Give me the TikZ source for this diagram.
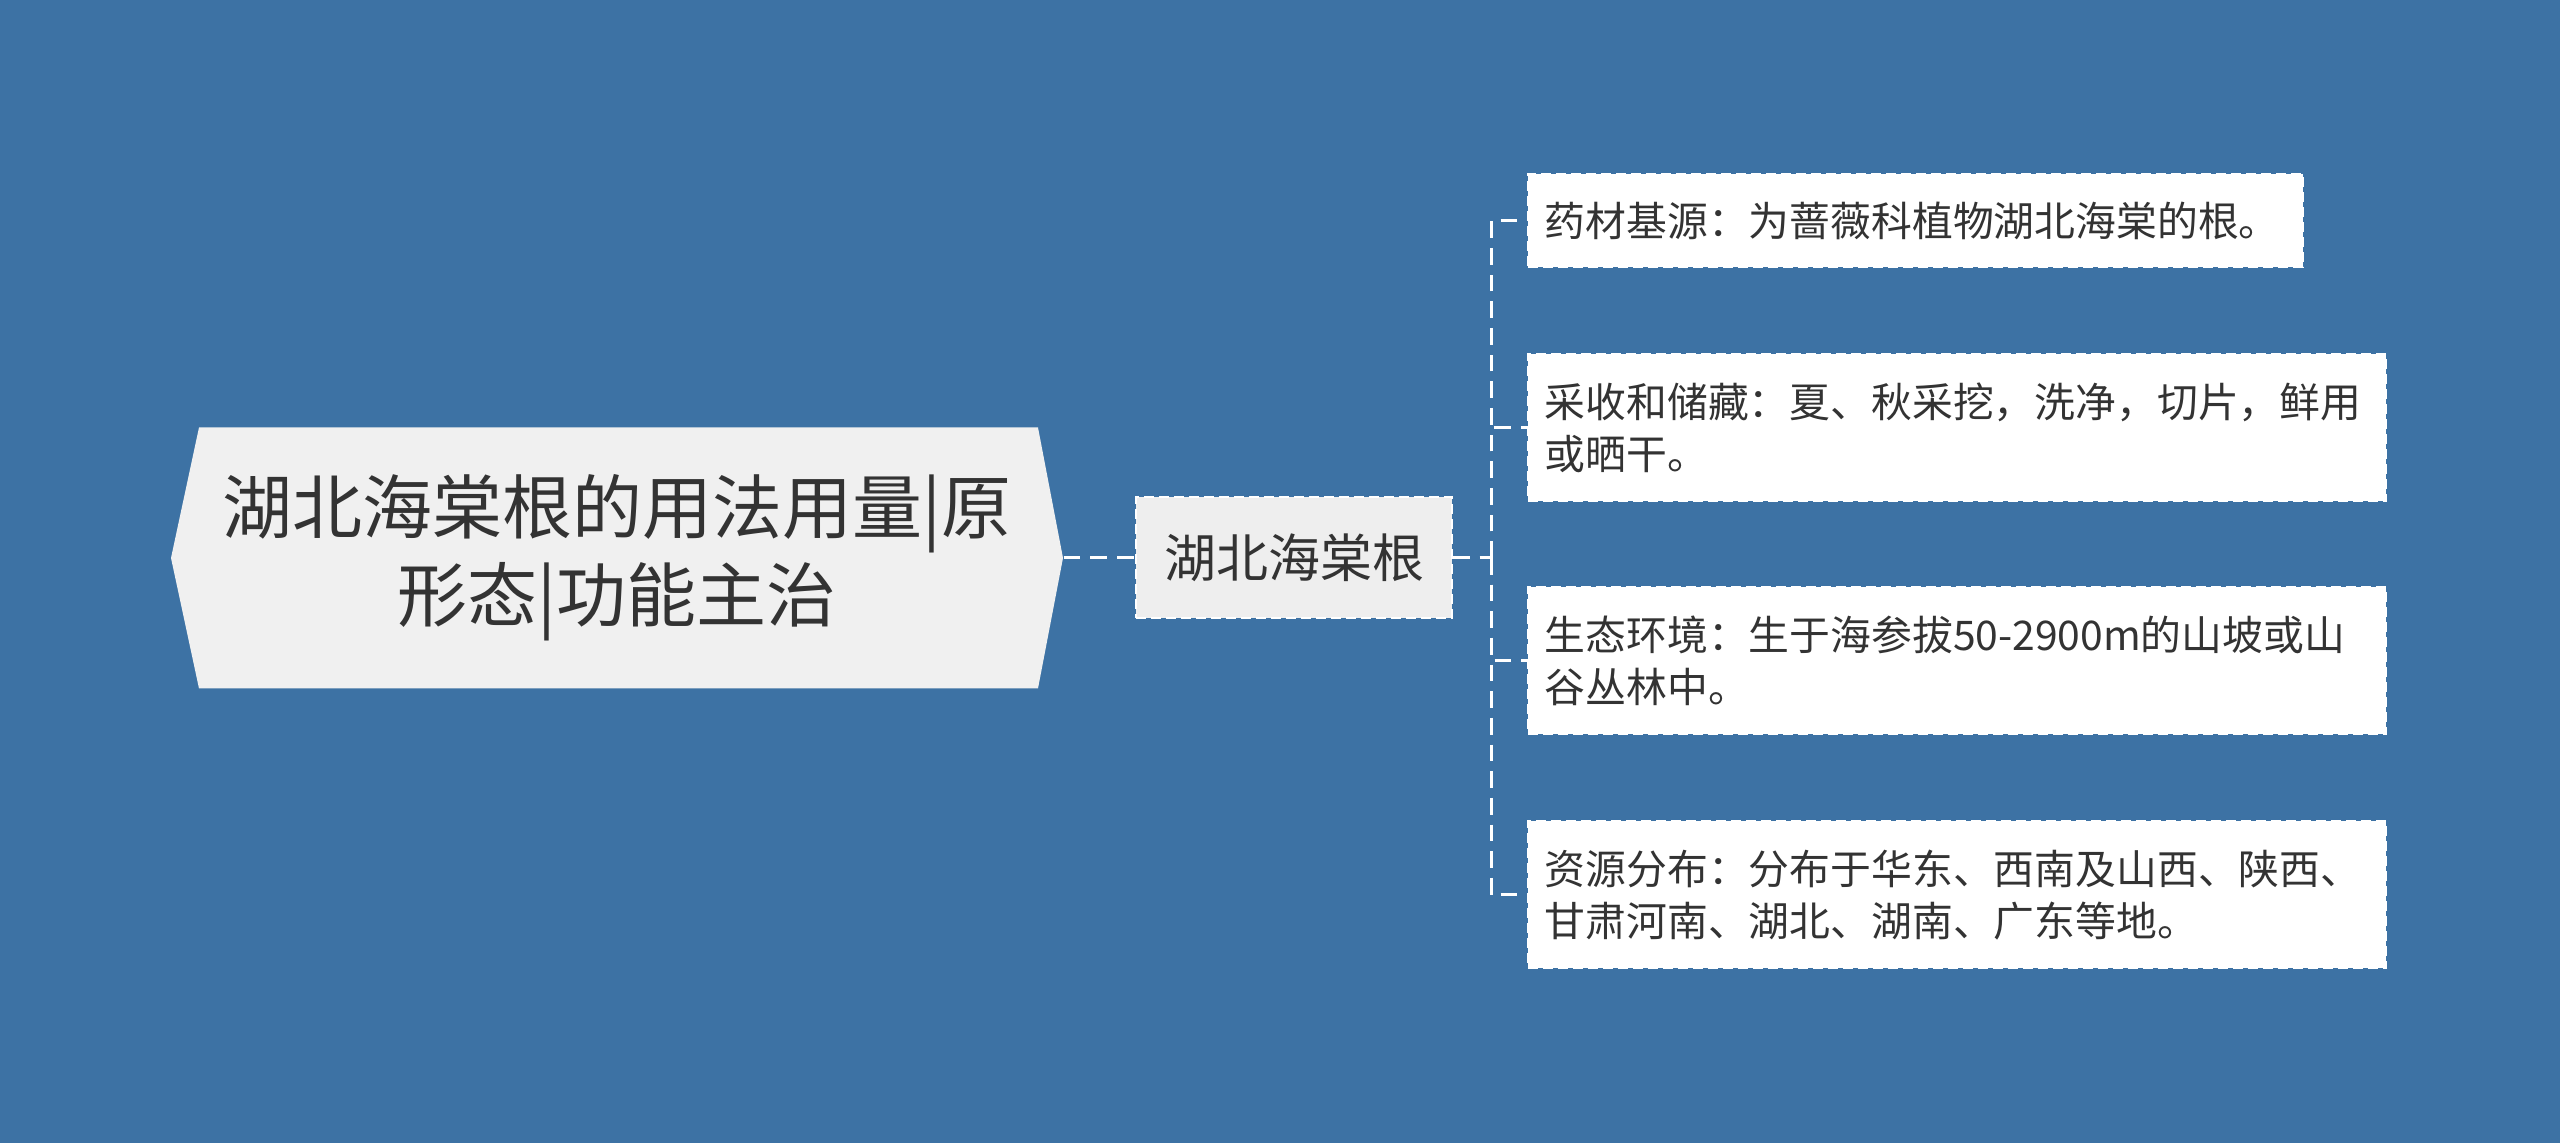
\documentclass[tikz,border=0pt]{standalone}
\usepackage{fontspec}
\usepackage{tikz}
\newfontfamily\cjk{Noto Sans CJK SC}
\definecolor{bgblue}{HTML}{3D72A4}
\definecolor{rootgray}{HTML}{F0F0F0}
\definecolor{hubgray}{HTML}{EEEEEE}
\definecolor{ink}{HTML}{333333}

\begin{document}
\begin{tikzpicture}[x=0.3pt,y=0.3pt,
    link/.style={white, line width=0.9pt, dash pattern=on 5pt off 3pt},
    rootnode/.style={minimum width=267.6pt, minimum height=78.3pt, inner sep=0pt,
      align=center, text=ink, font=\cjk\fontsize{21}{26.4}\selectfont,
      path picture={\fill[rootgray] (path picture bounding box.west)
        -- ([xshift=8.4pt]path picture bounding box.north west)
        -- ([xshift=-7.5pt]path picture bounding box.north east)
        -- (path picture bounding box.east)
        -- ([xshift=-7.5pt]path picture bounding box.south east)
        -- ([xshift=8.4pt]path picture bounding box.south west) -- cycle;}},
    hubnode/.style={fill=hubgray, draw=white, line width=0.6pt, dash pattern=on 3pt off 1.5pt,
      minimum width=94.8pt, minimum height=36.3pt, inner sep=0pt,
      text=ink, font=\cjk\fontsize{15.6}{18}\selectfont},
    leafnode/.style={fill=white, draw=white, line width=0.6pt, dash pattern=on 3pt off 1.5pt,
      anchor=west, align=left, inner xsep=5pt, inner ysep=0pt,
      text=ink, font=\cjk\fontsize{12.25}{15.6}\selectfont}]
    \fill[bgblue] (0,0) rectangle (2560,1143);
    \node[rootnode] (root) at (617,585) {湖北海棠根的用法用量|原\\形态|功能主治};
    \node[hubnode] (hub) at (1294,585) {湖北海棠根};
    \coordinate (fork) at (1491,585);
    \node[leafnode, text width=222.5pt, minimum height=27.9pt] (src) at (1527,922) {药材基源：为蔷薇科植物湖北海棠的根。};
    \node[leafnode, text width=247.4pt, minimum height=44.1pt] (harvest) at (1527,715) {采收和储藏：夏、秋采挖，洗净，切片，鲜用\\或晒干。};
    \node[leafnode, text width=247.4pt, minimum height=44.1pt] (habitat) at (1527,482) {生态环境：生于海参拔50-2900m的山坡或山\\谷丛林中。};
    \node[leafnode, text width=247.4pt, minimum height=44.1pt] (range) at (1527,248) {资源分布：分布于华东、西南及山西、陕西、\\甘肃河南、湖北、湖南、广东等地。};
    \draw[link] (root.east) -- (hub.west);
    \draw[link] (hub.east) -- (fork);
    \draw[link] (fork) |- (src.west);
    \draw[link] (fork) |- (harvest.west);
    \draw[link] (fork) |- (habitat.west);
    \draw[link] (fork) |- (range.west);
\end{tikzpicture}
\end{document}
